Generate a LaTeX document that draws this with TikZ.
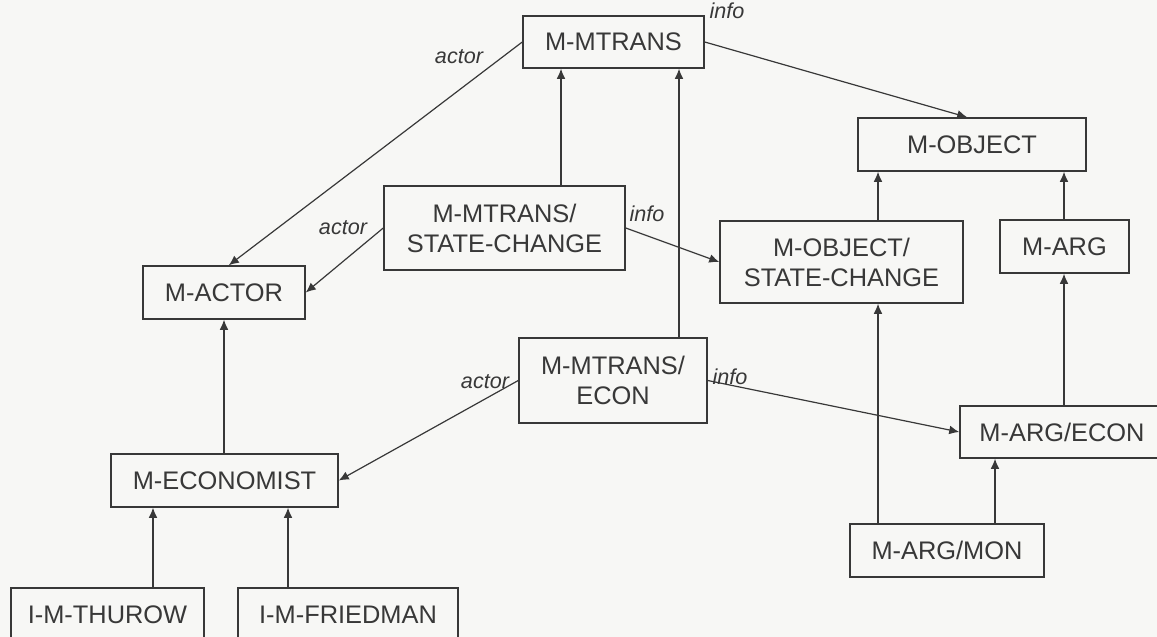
\documentclass[tikz,border=0pt]{standalone}
\usepackage{fontspec}
\setmainfont{Liberation Sans}
\usetikzlibrary{arrows.meta}
\definecolor{ink}{HTML}{383838}
\definecolor{paper}{HTML}{F7F7F5}
\begin{document}
\begin{tikzpicture}[x=0.5pt,y=-0.5pt,
  sz/.style 2 args={minimum width=#1*0.5pt, minimum height=#2*0.5pt},
  box/.style={draw=ink, line width=0.75pt, text=ink, inner sep=0pt, align=center,
    font=\fontsize{12.7pt}{15pt}\selectfont},
  lbl/.style={text=ink, inner sep=0pt, font=\fontsize{10.8pt}{12pt}\selectfont\itshape},
  arr/.style={draw=ink, line width=0.6pt, -{Latex[length=5pt,width=4.4pt]}}]
% page and clipping frame
\useasboundingbox (0,0) rectangle (1157,637);
\fill[paper] (0,0) rectangle (1157,637);
\clip (0,0) rectangle (1157,637);

% frames
\node[box, sz={181}{52}] (mtrans)   at (613.5,42)   {M-MTRANS};
\node[box, sz={228}{53}] (mobj)     at (972,144.5)  {M-OBJECT};
\node[box, sz={243}{82}] (mobjsc)   at (841.5,262)  {M-OBJECT/\\STATE-CHANGE};
\node[box, sz={129}{53}] (marg)     at (1064.5,246.5) {M-ARG};
\node[box, sz={241}{84}] (mtsc)     at (504.5,228)  {M-MTRANS/\\STATE-CHANGE};
\node[box, sz={162}{53}] (mactor)   at (224,292.5)  {M-ACTOR};
\node[box, sz={188}{85}] (mtecon)   at (613,380.5)  {M-MTRANS/\\ECON};
\node[box, sz={204}{52}] (margecon) at (1062,432)   {M-ARG/ECON};
\node[box, sz={194}{53}] (mmon)     at (947,550.5)  {M-ARG/MON};
\node[box, sz={227}{53}] (mecon)    at (224.5,480.5) {M-ECONOMIST};
\node[box, sz={193}{53}] (thurow)   at (107.5,614.5) {I-M-THUROW};
\node[box, sz={220}{53}] (friedman) at (348,614.5)  {I-M-FRIEDMAN};

% columns of the vertical links
\coordinate (xa) at (561,0);
\coordinate (xb) at (679,0);
\coordinate (xc) at (878,0);
\coordinate (xd) at (1064,0);
\coordinate (xe) at (995,0);
\coordinate (xf) at (224,0);
\coordinate (xg) at (153,0);
\coordinate (xh) at (288,0);

% isa links
\draw[arr] (mtsc.north -| xa) -- (mtrans.south -| xa);
\draw[arr] (mtecon.north -| xb) -- (mtrans.south -| xb);
\draw[arr] (mobjsc.north -| xc) -- (mobj.south -| xc);
\draw[arr] (mmon.north -| xc) -- (mobjsc.south -| xc);
\draw[arr] (marg.north -| xd) -- (mobj.south -| xd);
\draw[arr] (margecon.north -| xd) -- (marg.south -| xd);
\draw[arr] (mmon.north -| xe) -- (margecon.south -| xe);
\draw[arr] (mecon.north -| xf) -- (mactor.south -| xf);
\draw[arr] (thurow.north -| xg) -- (mecon.south -| xg);
\draw[arr] (friedman.north -| xh) -- (mecon.south -| xh);

% role links
\draw[arr] (mtrans.west) -- (mactor.80);
\draw[arr] (mtrans.east) -- (mobj.100);
\draw[arr] (mtsc.west) -- (mactor.east);
\draw[arr] (mtsc.east) -- (mobjsc.west);
\draw[arr] (mtecon.west) -- (mecon.east);
\draw[arr] (mtecon.east) -- (margecon.west);

% role labels
\node[lbl] (la1) at (459,57)  {actor};
\node[lbl] (li1) at (727,11)  {info};
\node[lbl] (la2) at (343,228) {actor};
\node[lbl] (li2) at (647,214) {info};
\node[lbl] (la3) at (485,382) {actor};
\node[lbl] (li3) at (730,377) {info};
\end{tikzpicture}
\end{document}
